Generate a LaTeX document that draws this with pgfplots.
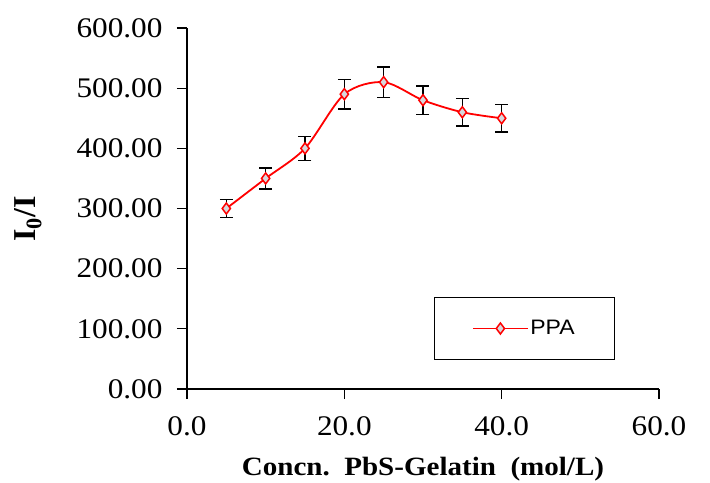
\documentclass[border=0pt]{standalone}
\usepackage{pgfplots}
\pgfplotsset{compat=1.18}
\usepackage{fontspec}
\setmainfont[FakeStretch=1.1]{Liberation Serif}
\setsansfont[FakeStretch=1.1]{Liberation Sans}
\newfontfamily\ylabfont{Liberation Serif}

\definecolor{markfill}{RGB}{215,215,220}

\begin{document}
\begin{tikzpicture}
\useasboundingbox (-187bp,-94bp) rectangle (523bp,389bp);
\begin{axis}[
  scale only axis,
  width=472bp, height=361bp,
  xmin=0, xmax=60, ymin=0, ymax=600,
  xtick={0,20,40,60},
  ytick={0,100,200,300,400,500,600},
  axis x line*=bottom, axis y line*=left,
  axis line style={line width=1.3bp, black},
  tick style={line width=1.3bp, black},
  tick align=outside,
  major tick length=10bp,
  /pgf/number format/assume math mode=true,
  ticklabel style={font=\fontsize{28.5}{30}\selectfont},
  xticklabel style={yshift=-14bp, /pgf/number format/.cd, fixed, fixed zerofill, precision=1},
  yticklabel style={xshift=-11bp, /pgf/number format/.cd, fixed, fixed zerofill, precision=2},
  xlabel={\textbf{Concn.\ \ PbS-Gelatin\ \ (mol/L)}},
  xlabel style={font=\fontsize{26.5}{28}\selectfont, at={(axis description cs:0.5,-0.222)}, anchor=center},
  ylabel={\textbf{I\textsubscript{0}/I}},
  ylabel style={font=\ylabfont\fontsize{32}{34}\selectfont, at={(axis description cs:-0.337,0.471)}, anchor=center},
  legend style={
    at={(axis description cs:0.523,0.255)}, anchor=north west,
    draw=black, line width=1.3bp,
    inner xsep=38bp, inner ysep=21bp,
    font=\sffamily\fontsize{21}{23}\selectfont,
  },
  legend image code/.code={
    \draw[mark repeat=2, mark phase=2, #1] plot coordinates {(0bp,0bp) (27bp,0bp) (54bp,0bp)};
  },
]
\addplot+[
  smooth, red, line width=1.8bp,
  mark=diamond*, mark size=5.5bp,
  mark options={fill=markfill, draw=red, line width=1.5bp},
  error bars/.cd, y dir=both, y explicit,
  error bar style={black, line width=1.5bp},
  error mark options={black, rotate=90, mark size=6.5bp, line width=1.5bp},
] coordinates {
  (5,300)  +- (0,15)
  (10,350) +- (0,17.5)
  (15,400) +- (0,20)
  (20,490) +- (0,24.5)
  (25,510) +- (0,25.5)
  (30,480) +- (0,24)
  (35,460) +- (0,23)
  (40,450) +- (0,22.5)
};
\addlegendentry{PPA}
\end{axis}
\end{tikzpicture}
\end{document}
